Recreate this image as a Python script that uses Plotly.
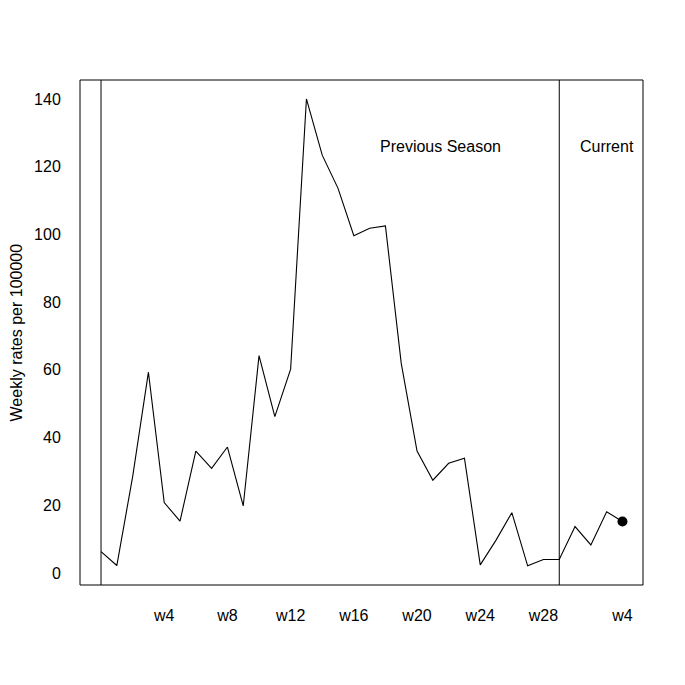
import plotly.graph_objects as go

# Weekly rates per 100000: previous season (index 0..29) followed by current season (index 30..33)
week_index = list(range(34))
rates = [6.3, 2.2, 28.4, 59.3, 20.8, 15.3, 36.0, 30.9, 37.2, 19.8,
         64.2, 46.2, 60.2, 140.0, 123.4, 113.6, 99.6, 101.8, 102.5, 61.9,
         36.0, 27.4, 32.4, 33.9, 2.4, 9.7, 17.8, 2.1, 4.0, 4.0,
         13.7, 8.3, 18.1, 15.2]

tick_positions = [4, 8, 12, 16, 20, 24, 28, 33]
tick_labels = ["w4", "w8", "w12", "w16", "w20", "w24", "w28", "w4"]
season_breaks = [0, 29]
y_ticks = [0, 20, 40, 60, 80, 100, 120, 140]

labels_text = ["Previous Season", "Current"]
labels_x = [21.5, 32.0]
labels_y = [126, 126]

FONT = "Liberation Sans, Arial, Helvetica, sans-serif"

fig = go.Figure()
fig.add_trace(go.Scatter(x=week_index, y=rates, mode="lines",
                         line=dict(color="black", width=1.1), showlegend=False,
                         hoverinfo="skip"))
fig.add_trace(go.Scatter(x=[week_index[-1]], y=[rates[-1]], mode="markers",
                         marker=dict(color="black", size=10), showlegend=False))

# plot box
fig.add_shape(type="rect", x0=0, x1=1, y0=0, y1=1, xref="paper", yref="paper",
              line=dict(color="black", width=1))

for b in season_breaks:
    fig.add_shape(type="line", x0=b, x1=b, y0=0, y1=1, xref="x", yref="paper",
                  line=dict(color="black", width=1))

for t, x, y in zip(labels_text, labels_x, labels_y):
    fig.add_annotation(x=x, y=y, text=t, showarrow=False,
                       font=dict(size=16, color="black", family=FONT))

# y-axis title as rotated annotation
fig.add_annotation(x=-0.112, y=0.5, xref="paper", yref="paper",
                   text="Weekly rates per 100000", textangle=-90, showarrow=False,
                   xanchor="center", yanchor="middle", borderpad=0,
                   font=dict(size=16, color="black", family=FONT))

fig.update_layout(
    width=677, height=677,
    margin=dict(l=72, r=42, t=72, b=100, autoexpand=False),
    plot_bgcolor="white", paper_bgcolor="white",
    font=dict(family=FONT, size=16, color="black"),
)
fig.update_xaxes(range=[-1.33, 34.3], tickvals=tick_positions, ticktext=tick_labels,
                 showgrid=False, zeroline=False, showline=False,
                 ticks="outside", ticklen=16,
                 tickcolor="rgba(0,0,0,0)", tickfont=dict(size=16), automargin=False)
fig.update_yaxes(range=[-3.55, 145.6], tickvals=y_ticks,
                 showgrid=False, zeroline=False, showline=False,
                 ticks="outside", ticklen=15,
                 tickcolor="rgba(0,0,0,0)", tickfont=dict(size=16), automargin=False)

fig.write_html("out.html")
